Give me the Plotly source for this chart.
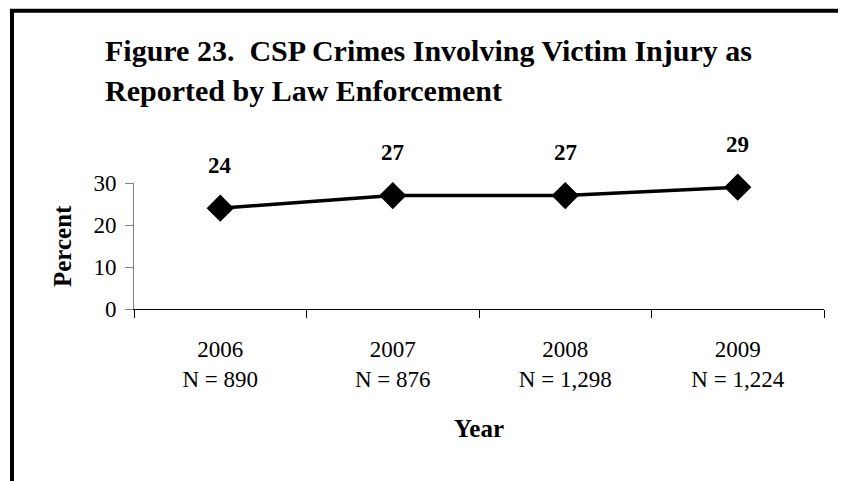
import plotly.graph_objects as go

years = ["2006", "2007", "2008", "2009"]
n_labels = ["N = 890", "N = 876", "N = 1,298", "N = 1,224"]
percent = [24, 27, 27, 29]
title_lines = ["Figure 23.  CSP Crimes Involving Victim Injury as",
               "Reported by Law Enforcement"]

FONT = "Liberation Serif, Times New Roman, serif"

fig = go.Figure()
fig.add_trace(go.Scatter(
    x=years, y=percent, mode="lines+markers",
    line=dict(color="black", width=3.5),
    marker=dict(symbol="diamond", size=21, color="black"),
    cliponaxis=False, showlegend=False, hoverinfo="skip",
))

annotations = []
for i, v in enumerate(percent):
    annotations.append(dict(x=i, y=v, xref="x", yref="y", text=f"<b>{v}</b>",
                            showarrow=False, yshift=43,
                            font=dict(family=FONT, size=23, color="black")))

PW, PH = 690, 126
# title lines
annotations.append(dict(x=(103 - 134) / PW, y=(309 - 50) / PH, xref="paper", yref="paper",
                        xanchor="left", yanchor="middle", text=f"<b>{title_lines[0]}</b>",
                        showarrow=False, font=dict(family=FONT, size=30, color="black")))
annotations.append(dict(x=(103 - 134) / PW, y=(309 - 90.5) / PH, xref="paper", yref="paper",
                        xanchor="left", yanchor="middle", text=f"<b>{title_lines[1]}</b>",
                        showarrow=False, font=dict(family=FONT, size=30, color="black")))
# axis titles
annotations.append(dict(x=(62 - 134) / PW, y=0.5, xref="paper", yref="paper", xanchor="center",
                        yanchor="middle", text="<b>Percent</b>", textangle=-90, showarrow=False,
                        font=dict(family=FONT, size=25, color="black")))
annotations.append(dict(x=0.5, y=(309 - 428) / PH, xref="paper", yref="paper", xanchor="center",
                        yanchor="middle", text="<b>Year</b>", showarrow=False,
                        font=dict(family=FONT, size=25, color="black")))

x_left = (12 - 134) / PW
y_top = (309 - 10.7) / PH
shapes = [
    dict(type="line", xref="paper", yref="paper", x0=x_left, x1=x_left, y0=-2, y1=y_top,
         line=dict(color="black", width=4)),
    dict(type="line", xref="paper", yref="paper", x0=x_left - 0.003, x1=1.2, y0=y_top, y1=y_top,
         line=dict(color="black", width=4)),
]

# page body adds an 8px offset; compensate in the margins
fig.update_layout(
    width=846, height=481,
    margin=dict(l=126, r=30, t=175, b=180, autoexpand=False),
    paper_bgcolor="white", plot_bgcolor="white",
    font=dict(family=FONT, size=23, color="black"),
    annotations=annotations, shapes=shapes,
    xaxis=dict(type="category", range=[-0.5, 3.5], tickmode="array", tickvals=years,
               ticktext=[f"{y}<br>{n}" for y, n in zip(years, n_labels)],
               tickson="boundaries", ticks="outside", ticklen=8, tickcolor="black",
               showline=True, linecolor="black", linewidth=1, showgrid=False,
               ticklabelstandoff=19, automargin=False,
               tickfont=dict(family=FONT, size=23, color="black")),
    yaxis=dict(range=[0, 30], tickvals=[0, 10, 20, 30], ticks="outside", ticklen=8,
               tickcolor="#808080", showline=True, linecolor="#808080", linewidth=1,
               showgrid=False, zeroline=False, ticklabelstandoff=4, automargin=False,
               tickfont=dict(family=FONT, size=23, color="black")),
)

fig.write_html("out.html")
